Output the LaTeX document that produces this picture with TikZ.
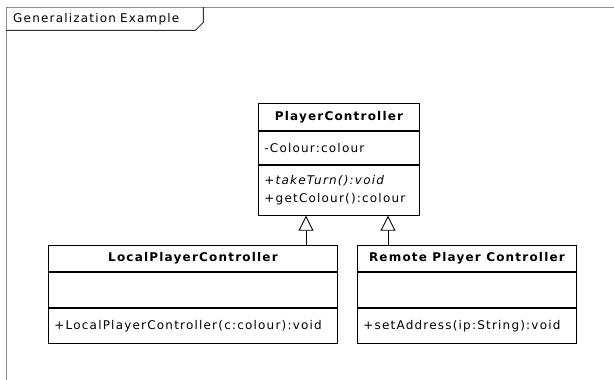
\documentclass[tikz,border=0pt]{standalone}
\usepackage{fontspec}
\setmainfont{DejaVu Sans}[LetterSpace=10]
\usetikzlibrary{arrows.meta,calc}
\begin{document}
\begin{tikzpicture}[x=1pt,y=-1pt,
  font=\fontsize{12}{18}\selectfont,
  frameline/.style={draw=black!45,line width=0.9pt},
  labelline/.style={draw=black!80,line width=0.9pt},
  comp/.style={draw=black,line width=0.9pt,anchor=north west,inner xsep=6pt,inner ysep=3pt,align=left},
  ctitle/.style={draw=black,line width=0.9pt,anchor=north west,inner sep=0pt,font=\fontsize{12}{18}\selectfont\bfseries},
  gen/.style={draw=black,line width=0.9pt,-{Triangle[open,fill=white,length=15pt,width=15pt]}}
]
\useasboundingbox (0,0) rectangle (614,380);
% frame
\coordinate (fbl) at (6,380);
\coordinate (fcorner) at (6,7);
\coordinate (ftr) at (614,7);
\draw[frameline] (fbl) -- (fcorner) -- (ftr);
\node[anchor=north west,inner xsep=7pt,inner ysep=0pt,text width=183pt,minimum height=23pt,align=left] (lbl) at (6,7) {Generalization Example};
\draw[labelline] (lbl.north east) -- ($(lbl.south east)+(0,-8)$) -- ($(lbl.south east)+(-8,0)$) -- (lbl.south west);

% PlayerController
\node[ctitle,minimum width=161pt,minimum height=27pt] (pcT) at (258,103) {PlayerController};
\node[comp,text width=149pt,minimum height=33pt] (pcA) at (pcT.south west) {-Colour:colour};
\node[comp,text width=149pt,minimum height=50pt] (pcO) at (pcA.south west) {\textit{+takeTurn():void}\\+getColour():colour};

% LocalPlayerController
\node[ctitle,minimum width=289pt,minimum height=26pt] (lpcT) at (48,245) {LocalPlayerController};
\node[comp,text width=277pt,minimum height=35pt] (lpcA) at (lpcT.south west) {};
\node[comp,text width=277pt,minimum height=35pt] (lpcO) at (lpcA.south west) {+LocalPlayerController(c:colour):void};

% RemotePlayerController
\node[ctitle,minimum width=219pt,minimum height=26pt] (rpcT) at (357,245) {Remote Player Controller};
\node[comp,text width=207pt,minimum height=35pt] (rpcA) at (rpcT.south west) {};
\node[comp,text width=207pt,minimum height=35pt] (rpcO) at (rpcA.south west) {+setAddress(ip:String):void};

% generalizations
\coordinate (aL) at (306,0);
\coordinate (aR) at (388,0);
\draw[gen] (lpcT.north -| aL) -- (pcO.south -| aL);
\draw[gen] (rpcT.north -| aR) -- (pcO.south -| aR);
\end{tikzpicture}
\end{document}
